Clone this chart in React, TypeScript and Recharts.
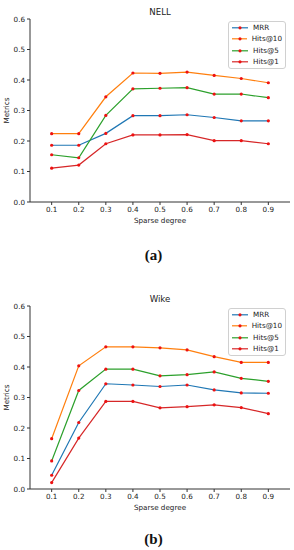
import React from 'react';
import { LineChart, Line, XAxis, YAxis, Legend } from 'recharts';

const sparseDegrees = [0.1, 0.2, 0.3, 0.4, 0.5, 0.6, 0.7, 0.8, 0.9];
const yTicks = [0, 0.1, 0.2, 0.3, 0.4, 0.5, 0.6];
const seriesNames = ['MRR', 'Hits@10', 'Hits@5', 'Hits@1'];
const seriesColors = ['#1f77b4', '#ff7f0e', '#2ca02c', '#d62728'];

// NELL
const nellMRR = [0.186, 0.186, 0.225, 0.283, 0.283, 0.286, 0.277, 0.266, 0.266];
const nellHits10 = [0.224, 0.224, 0.345, 0.423, 0.422, 0.426, 0.415, 0.405, 0.391];
const nellHits5 = [0.155, 0.145, 0.284, 0.371, 0.373, 0.375, 0.354, 0.354, 0.342];
const nellHits1 = [0.111, 0.121, 0.191, 0.22, 0.22, 0.221, 0.201, 0.201, 0.191];

// Wike
const wikeMRR = [0.045, 0.218, 0.345, 0.341, 0.336, 0.341, 0.325, 0.315, 0.314];
const wikeHits10 = [0.165, 0.404, 0.466, 0.466, 0.463, 0.456, 0.434, 0.415, 0.415];
const wikeHits5 = [0.092, 0.323, 0.393, 0.393, 0.371, 0.375, 0.384, 0.363, 0.353];
const wikeHits1 = [0.021, 0.167, 0.287, 0.287, 0.266, 0.27, 0.276, 0.267, 0.247];

const FONT = '"DejaVu Sans", sans-serif';
const TXT = '#222';
const AX = '#333';

function buildRows(series: number[][]) {
  return sparseDegrees.map((x, i) => {
    const row: any = { x };
    seriesNames.forEach((n, k) => {
      row[n] = series[k][i];
    });
    return row;
  });
}

const nellRows = buildRows([nellMRR, nellHits10, nellHits5, nellHits1]);
const wikeRows = buildRows([wikeMRR, wikeHits10, wikeHits5, wikeHits1]);

function LegendBox(props: any) {
  const payload = (props.payload || []).slice().sort(
    (a: any, b: any) => seriesNames.indexOf(a.value) - seriesNames.indexOf(b.value)
  );
  return (
    <div
      style={{
        border: '1px solid #d0d0d0',
        borderRadius: 3,
        background: 'rgba(255,255,255,0.8)',
        padding: '0 3px',
        width: 50,
        fontFamily: FONT,
        fontSize: 7.2,
        color: TXT,
      }}
    >
      {payload.map((p: any) => (
        <div key={p.value} style={{ display: 'flex', alignItems: 'center', height: 11.6 }}>
          <svg width={16} height={11.6} style={{ display: 'block' }}>
            <line x1={0} x2={16} y1={5.8} y2={5.8} stroke={p.color} strokeWidth={1.2} />
            <circle cx={8} cy={5.8} r={1.6} fill="#ee1111" />
          </svg>
          <span style={{ marginLeft: 5, lineHeight: '11.6px', whiteSpace: 'nowrap' }}>{p.value}</span>
        </div>
      ))}
    </div>
  );
}

function Panel({ title, rows, top }: { title: string; rows: any[]; top: number }) {
  return (
    <div style={{ position: 'absolute', left: 0, top, width: 294, height: 230 }}>
      <div
        style={{
          position: 'absolute',
          left: 60,
          width: 200,
          top: 11.7 - 6,
          height: 12,
          lineHeight: '12px',
          textAlign: 'center',
          fontFamily: FONT,
          fontSize: 8.6,
          color: TXT,
        }}
      >
        {title}
      </div>
      <LineChart width={294} height={230} data={rows} margin={{ top: 19, right: 4, left: 0, bottom: 0 }}>
        <XAxis
          dataKey="x"
          type="number"
          domain={[0.02, 0.98]}
          ticks={sparseDegrees}
          tickFormatter={(v: number) => v.toFixed(1)}
          allowDataOverflow
          height={28}
          tickSize={3}
          stroke={AX}
          tick={{ fill: TXT, fontSize: 7.2, fontFamily: FONT }}
          label={{
            content: (p: any) => {
              const vb = p.viewBox || {};
              return (
                <text
                  x={vb.x + vb.width / 2}
                  y={vb.y + 21.3}
                  textAnchor="middle"
                  fontSize={7.2}
                  fontFamily={FONT}
                  fill={TXT}
                >
                  Sparse degree
                </text>
              );
            },
          }}
        />
        <XAxis
          xAxisId="top"
          orientation="top"
          dataKey="x"
          type="number"
          domain={[0.02, 0.98]}
          allowDataOverflow
          height={0}
          tick={false}
          tickLine={false}
          stroke={AX}
        />
        <YAxis
          type="number"
          domain={[0, 0.6]}
          ticks={yTicks}
          tickFormatter={(v: number) => v.toFixed(1)}
          allowDataOverflow
          width={30}
          tickSize={3}
          stroke={AX}
          tick={{ fill: TXT, fontSize: 7.2, fontFamily: FONT }}
          label={{
            content: (p: any) => {
              const vb = p.viewBox || {};
              const cy = vb.y + vb.height / 2;
              return (
                <text
                  x={6.7}
                  y={cy}
                  transform={`rotate(-90 6.7 ${cy})`}
                  textAnchor="middle"
                  dominantBaseline="central"
                  fontSize={7.2}
                  fontFamily={FONT}
                  fill={TXT}
                >
                  Metrics
                </text>
              );
            },
          }}
        />
        <YAxis
          yAxisId="right"
          orientation="right"
          type="number"
          domain={[0, 0.6]}
          width={0}
          tick={false}
          tickLine={false}
          stroke={AX}
        />
        <Legend
          layout="vertical"
          align="center"
          verticalAlign="middle"
          content={<LegendBox />}
          wrapperStyle={{ position: 'absolute', left: 228, top: 20.5, width: 58 }}
        />
        {seriesNames.map((n, k) => (
          <Line
            key={n}
            type="linear"
            dataKey={n}
            name={n}
            stroke={seriesColors[k]}
            strokeWidth={1.2}
            dot={{ r: 1.6, fill: '#ee1111', stroke: 'none' }}
            activeDot={false}
            isAnimationActive={false}
          />
        ))}
      </LineChart>
    </div>
  );
}

export default function App() {
  const cap: React.CSSProperties = {
    position: 'absolute',
    left: 103.5,
    width: 100,
    height: 18,
    lineHeight: '18px',
    textAlign: 'center',
    fontFamily: '"Liberation Serif", serif',
    fontWeight: 'bold',
    fontSize: 15,
    color: '#111',
  };
  return (
    <div style={{ position: 'absolute', left: 0, top: 0, width: 294, height: 550, background: '#fff' }}>
      <Panel title="NELL" rows={nellRows} top={0} />
      <div style={{ ...cap, top: 254.5 - 9 }}>(a)</div>
      <Panel title="Wike" rows={wikeRows} top={287} />
      <div style={{ ...cap, top: 539 - 9 }}>(b)</div>
    </div>
  );
}
